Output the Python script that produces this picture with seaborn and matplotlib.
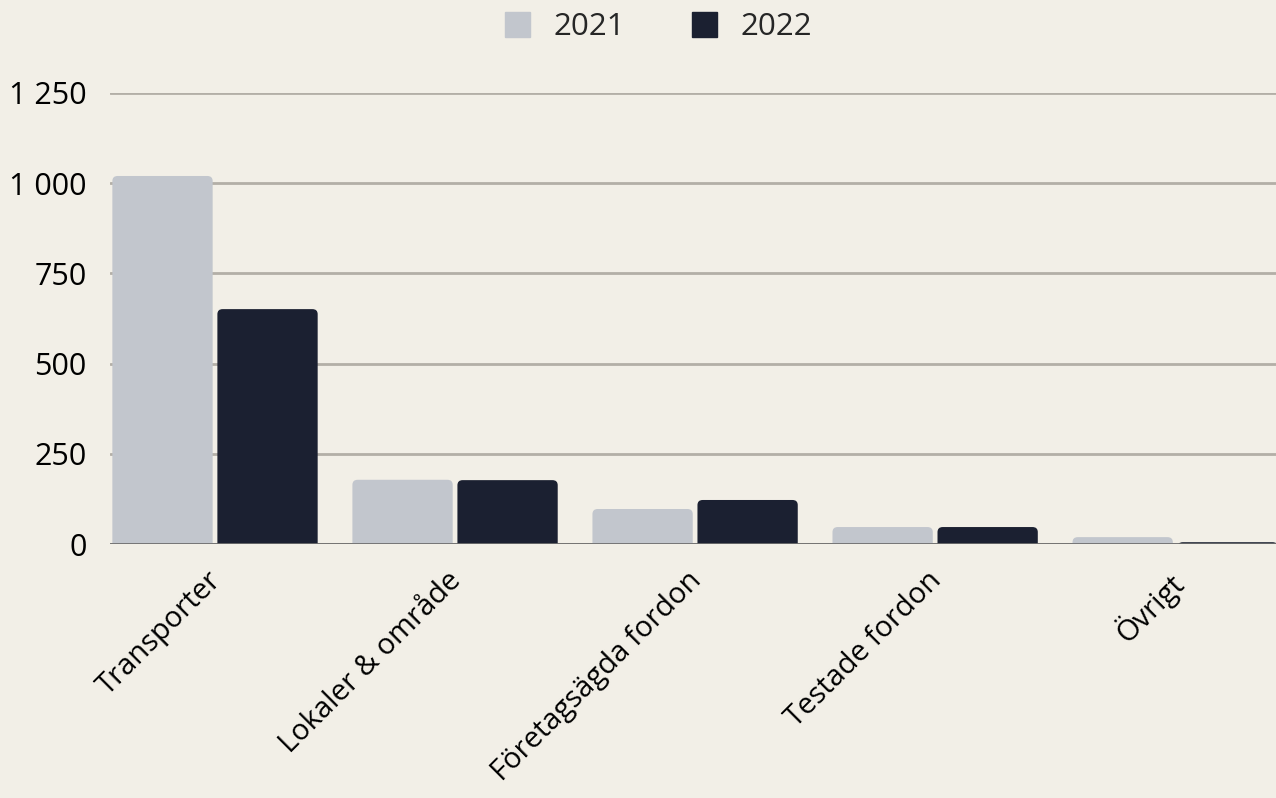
import pandas as pd
import matplotlib.pyplot as plt
import matplotlib.transforms as mtransforms
import seaborn as sns
from matplotlib.ticker import FuncFormatter
from matplotlib.patches import FancyBboxPatch

# Data
categories = ["Transporter", "Lokaler & område", "Företagsägda fordon", "Testade fordon", "Övrigt"]
years = ["2021", "2022"]
values_2021 = [1020, 178, 97, 47, 19]
values_2022 = [651, 177, 122, 47, 5]
y_ticks = [0, 250, 500, 750, 1000, 1250]

bg = "#F2EFE7"
palette = {"2021": "#C2C6CD", "2022": "#1B2031"}

df = pd.DataFrame({
    "kategori": categories * 2,
    "år": ["2021"] * len(categories) + ["2022"] * len(categories),
    "värde": values_2021 + values_2022,
})

sns.set_theme(style="white")
plt.rcParams['font.family'] = ['Open Sans', 'DejaVu Sans']
plt.rcParams['font.weight'] = 500

fig = plt.figure(figsize=(12.76, 7.98), dpi=100, facecolor=bg)
ax = fig.add_axes([110 / 1276, 254 / 798, 1 - 110 / 1276, (544 - 93) / 798])
ax.set_facecolor(bg)

sns.barplot(data=df, x="kategori", y="värde", hue="år", order=categories,
            hue_order=years, palette=palette, width=0.875, gap=0.045,
            saturation=1, linewidth=0, ax=ax, legend=False)

ax.set_xlim(-0.4375, 4.42)
ax.set_ylim(0, 1250)

# rounded tops: swap each bar for a rounded box, bottom corners pushed below 0
r = 0.022
aspect = 14 / r
for p in list(ax.patches):
    x, w, h = p.get_x(), p.get_width(), p.get_height()
    if h <= 0:
        continue
    rb = FancyBboxPatch((x, -15), w, h + 15,
                        boxstyle=f"round,pad=0,rounding_size={r}",
                        mutation_aspect=aspect, facecolor=p.get_facecolor(),
                        linewidth=0, zorder=2)
    ax.add_patch(rb)
    p.remove()

ax.set_yticks(y_ticks)
ax.yaxis.set_major_formatter(FuncFormatter(lambda v, p: f"{v:,.0f}".replace(",", " ")))
ax.grid(axis="y", color="#B3AFA7", linewidth=2)
ax.set_axisbelow(True)
ax.axhline(0, color="#6E6E6E", linewidth=2, zorder=3)
for s in ax.spines.values():
    s.set_visible(False)

ax.tick_params(axis="y", length=0, pad=17, labelsize=22, labelcolor="black")
ax.tick_params(axis="x", length=0, pad=16, labelsize=21, labelcolor="black")
shift = mtransforms.ScaledTranslation(-8 / 100, 0, fig.dpi_scale_trans)
for lab in ax.get_xticklabels():
    lab.set_rotation(45)
    lab.set_ha("right")
    lab.set_rotation_mode("anchor")
    lab.set_transform(lab.get_transform() + shift)
ax.set_xlabel("")
ax.set_ylabel("")

handles = [plt.Line2D([], [], marker="s", linestyle="", markersize=18,
                      color=palette[y]) for y in years]
fig.legend(handles, years, loc="center", bbox_to_anchor=(649 / 1276, 1 - 27 / 798),
           ncol=2, frameon=False, fontsize=22.5, handletextpad=0.15,
           columnspacing=1.55)

fig.savefig("out.png", dpi=100, facecolor=bg)
